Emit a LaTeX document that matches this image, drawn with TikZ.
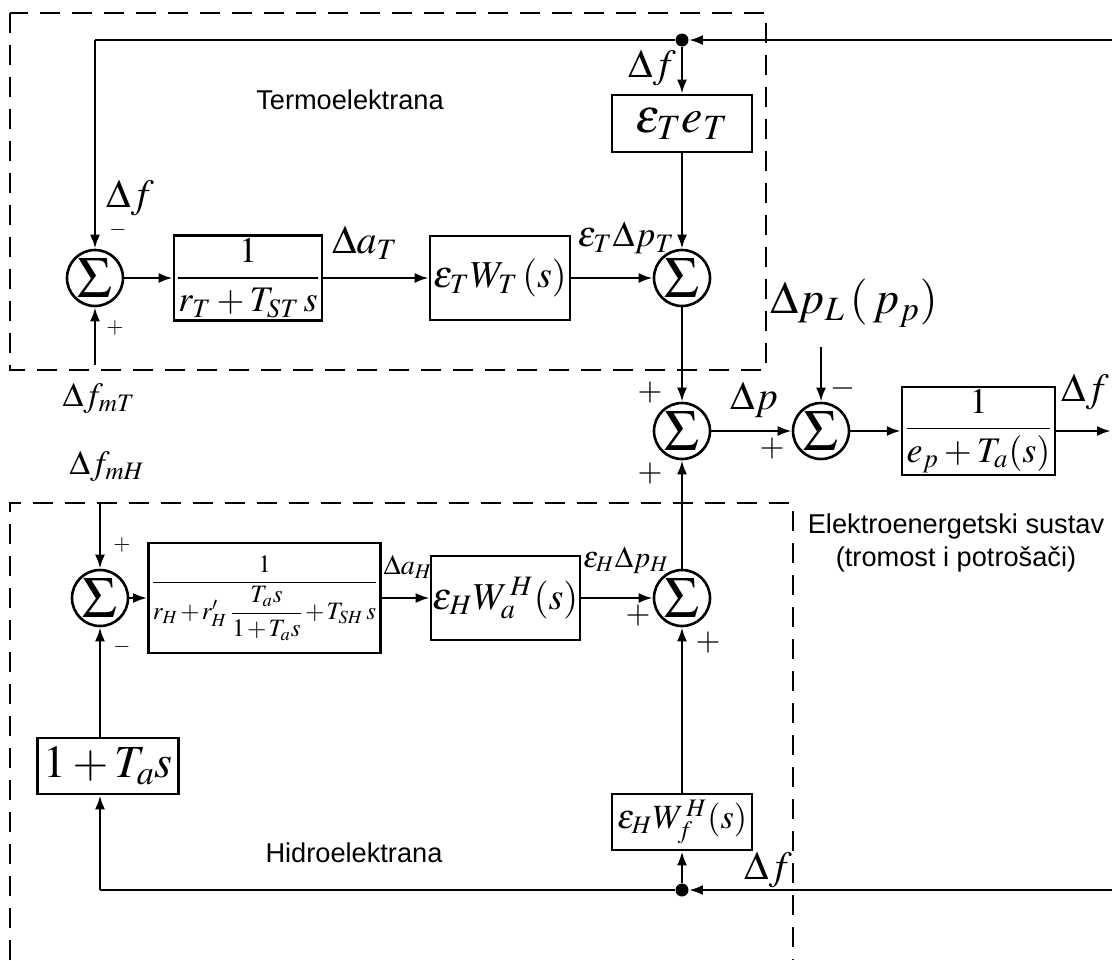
\documentclass[tikz,border=0pt]{standalone}
\usepackage{fontspec}
\usepackage{amsmath}
\usepackage{mathptmx}
\newfontfamily\labelfont{Liberation Sans}
\usetikzlibrary{arrows.meta}

\tikzset{
  blk/.style={draw, line width=1.3pt, inner sep=1pt, align=center},
  sumnode/.style={draw, circle, line width=1.3pt, minimum size=28pt, inner sep=0pt,
    font=\fontsize{29}{29}\selectfont},
  dotnode/.style={circle, fill, inner sep=0pt, minimum size=6.5pt},
  arr/.style={-{Latex[length=7pt,width=5pt]}, line width=1.3pt},
  wire/.style={line width=1.3pt},
  plant/.style={dash pattern=on 10pt off 6pt, line width=1.2pt},
  lbl/.style={font=\fontsize{20}{24}\selectfont, inner sep=0pt},
  sgn/.style={font=\fontsize{11}{12}\selectfont, inner sep=0pt},
  bigsgn/.style={font=\fontsize{16}{16}\selectfont, inner sep=0pt},
  txt/.style={font=\labelfont\fontsize{13.6}{16.5}\selectfont, align=center, inner sep=0pt},
}

\begin{document}
\begin{tikzpicture}[x=0.5pt, y=-0.5pt]
  \useasboundingbox (0,0) rectangle (1112,960);

  \draw[plant] (10,13) rectangle (766,370);
  \draw[plant] (10,960) -- (10,503) -- (793,503) -- (793,960);

  \node[sumnode] (sumT) at (95,278) {$\Sigma$};
  \node[blk, minimum width=70pt, minimum height=42.5pt, font=\fontsize{18}{20}\selectfont]
    (blkGovT) at (248,278) {$\dfrac{1}{r_T+T_{ST}\,s}$};
  \node[blk, minimum width=70pt, minimum height=42pt, font=\fontsize{19}{22}\selectfont]
    (blkTurbT) at (500,278) {$\varepsilon_T W_T\,(s)$};
  \node[sumnode] (sumPT) at (682,278) {$\Sigma$};
  \node[blk, minimum width=70pt, minimum height=28.5pt, font=\fontsize{24}{26}\selectfont]
    (blkSelfT) at (682,123.5) {$\varepsilon_T e_T$};
  \node[dotnode] (jT) at (682,40) {};

  \node[sumnode] (sumP) at (682,431) {$\Sigma$};
  \node[sumnode] (sumL) at (821,431) {$\Sigma$};
  \node[blk, minimum width=70.5pt, minimum height=42pt, font=\fontsize{18}{20}\selectfont]
    (blkSys) at (978.5,431) {$\dfrac{1}{e_p+T_a(s)}$};

  \node[sumnode] (sumH) at (100,598) {$\Sigma$};
  \node[blk, minimum width=112.5pt, minimum height=55pt, font=\fontsize{12.5}{14}\selectfont]
    (blkGovH) at (264.5,598) {\medmuskip=1.5mu $\dfrac{1}{r_H+r'_H\,\dfrac{T_a s}{1+T_a s}+T_{SH}\,s}$};
  \node[blk, minimum width=70.5pt, minimum height=42pt, font=\fontsize{19}{22}\selectfont]
    (blkTurbH) at (505.5,598) {$\varepsilon_H W_a^{\,H}(s)$};
  \node[sumnode] (sumPH) at (682,598) {$\Sigma$};
  \node[blk, minimum width=70.5pt, minimum height=28pt, font=\fontsize{23}{25}\selectfont]
    (blkCompH) at (108,766) {$1+T_a s$};
  \node[blk, minimum width=70pt, minimum height=28pt, font=\fontsize{17}{19}\selectfont]
    (blkSelfH) at (682,822) {$\varepsilon_H W_f^{\,H}(s)$};
  \node[dotnode] (jH) at (682,890) {};

  \coordinate (rightT) at (1112,40);
  \coordinate (cornerT) at (95,40);
  \coordinate (inT) at (95,365);
  \coordinate (rightH) at (1112,890);
  \coordinate (cornerH) at (100,890);
  \coordinate (inH) at (100,503);
  \coordinate (loadIn) at (821,347);
  \coordinate (outF) at (1111,431);

  \draw[arr] (rightT) -- (jT);
  \draw[wire] (jT) -- (cornerT);
  \draw[arr] (cornerT) -- (sumT);
  \draw[arr] (jT) -- (blkSelfT);
  \draw[arr] (inT) -- (sumT);
  \draw[arr] (sumT) -- (blkGovT);
  \draw[arr] (blkGovT) -- (blkTurbT);
  \draw[arr] (blkTurbT) -- (sumPT);
  \draw[arr] (blkSelfT) -- (sumPT);
  \draw[arr] (sumPT) -- (sumP);
  \draw[arr] (sumP) -- (sumL);
  \draw[arr] (loadIn) -- (sumL);
  \draw[arr] (sumL) -- (blkSys);
  \draw[arr] (blkSys) -- (outF);

  \draw[arr] (inH) -- (sumH);
  \draw[arr] (sumH) -- (blkGovH);
  \draw[arr] (blkGovH) -- (blkTurbH);
  \draw[arr] (blkTurbH) -- (sumPH);
  \draw[arr] (sumPH) -- (sumP);
  \draw[arr] (sumH.south |- blkCompH.north) -- (sumH);
  \draw[arr] (rightH) -- (jH);
  \draw[wire] (jH) -- (cornerH);
  \draw[arr] (cornerH) -- (cornerH |- blkCompH.south);
  \draw[arr] (jH) -- (blkSelfH);
  \draw[arr] (blkSelfH) -- (sumPH);

  \node[lbl] (lblFT) at (652,68) {$\Delta f$};
  \node[lbl] (lblFS) at (130,198) {$\Delta f$};
  \node[sgn] (sgnT1) at (118,230) {$-$};
  \node[sgn] (sgnT2) at (115,328) {$+$};
  \node[lbl, font=\fontsize{17}{20}\selectfont] (lblFmT) at (99,398) {$\Delta f_{mT}$};
  \node[lbl] (lblaT) at (365,243) {$\Delta a_T$};
  \node[lbl, font=\fontsize{18}{22}\selectfont] (lblpT) at (626,238) {$\varepsilon_T\Delta p_T$};
  \node[txt] (txtT) at (350,100) {Termoelektrana};

  \node[lbl, font=\fontsize{23}{27}\selectfont] (lblL) at (854,303) {$\Delta p_L\,(\,p_p)$};
  \node[lbl] (lblP) at (754,400) {$\Delta p$};
  \node[bigsgn] (sgnP1) at (650,392) {$+$};
  \node[bigsgn] (sgnP2) at (650,473) {$+$};
  \node[bigsgn] (sgnL1) at (772,448) {$+$};
  \node[bigsgn] (sgnL2) at (843,388) {$-$};
  \node[lbl] (lblFout) at (1085,392) {$\Delta f$};
  \node[txt] (txtSys) at (956,543) {Elektroenergetski sustav\\(tromost i potrošači)};

  \node[lbl, font=\fontsize{17}{20}\selectfont] (lblFmH) at (107,466) {$\Delta f_{mH}$};
  \node[sgn] (sgnH1) at (122,545) {$+$};
  \node[sgn] (sgnH2) at (122,647) {$-$};
  \node[lbl, font=\fontsize{14}{16}\selectfont] (lblaH) at (408,567) {$\Delta a_H$};
  \node[lbl, font=\fontsize{15}{18}\selectfont] (lblpH) at (626,560) {$\varepsilon_H\Delta p_H$};
  \node[bigsgn] (sgnPH1) at (638,615) {$+$};
  \node[bigsgn] (sgnPH2) at (708,642) {$+$};
  \node[txt] (txtH) at (354,853) {Hidroelektrana};
  \node[lbl] (lblFH) at (768,870) {$\Delta f$};
\end{tikzpicture}
\end{document}
